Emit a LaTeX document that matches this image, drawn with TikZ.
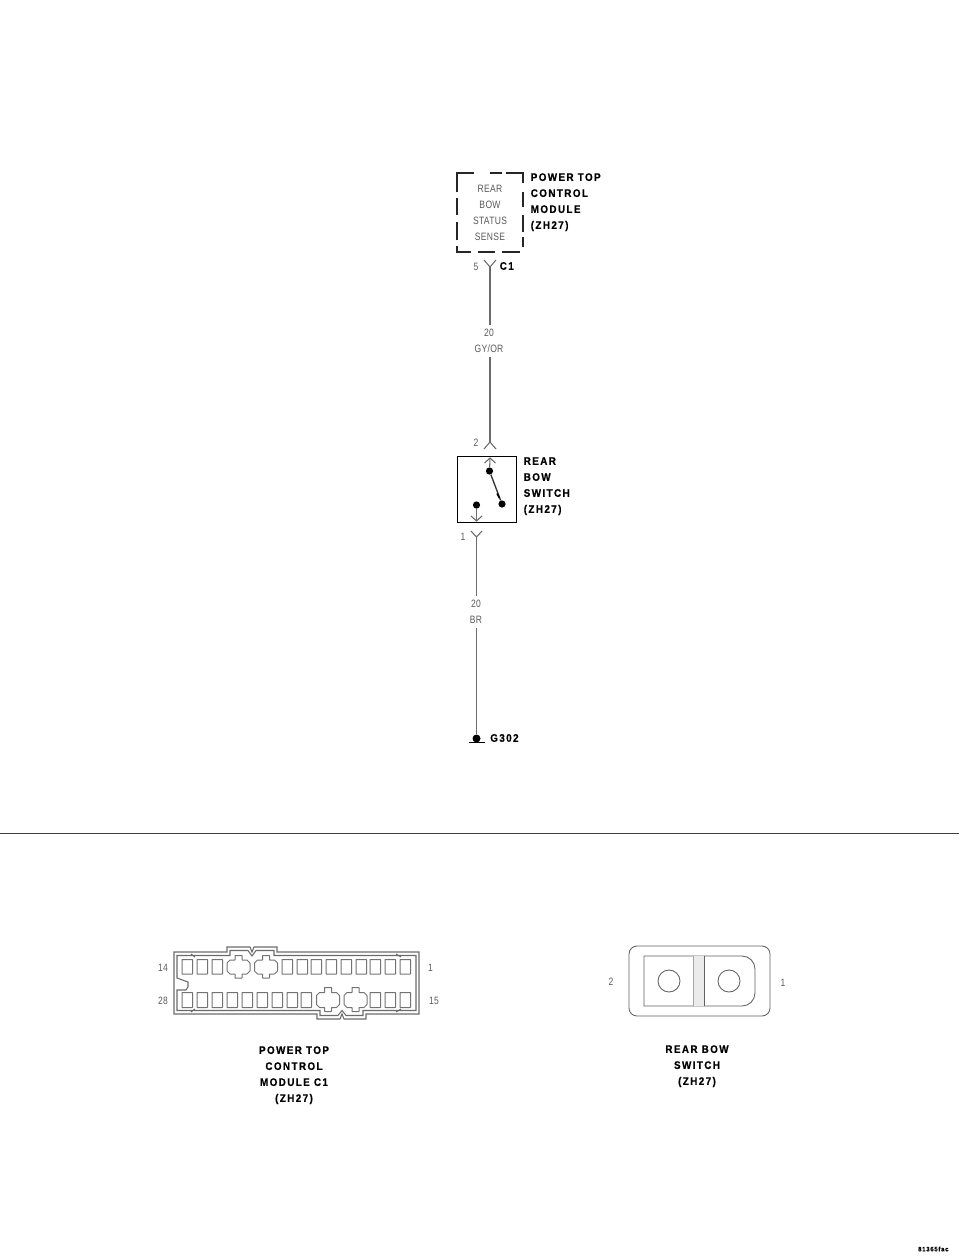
\documentclass[tikz,border=0pt]{standalone}
\usepackage{fontspec}
\setmainfont{Liberation Sans}
\newfontfamily\lblfont[LetterSpace=13,FakeBold=0.6,FakeStretch=0.9]{Liberation Sans}
\newfontfamily\thinfont[FakeStretch=0.8,LetterSpace=3]{Liberation Sans}
\definecolor{wiregray}{gray}{0.42}
\definecolor{textgray}{gray}{0.35}
\begin{document}
\begin{tikzpicture}[x=0.75pt,y=-0.75pt,
  lbl/.style={inner sep=0pt,align=left,anchor=north west,text=black,
    font=\lblfont\bfseries\fontsize{8.2}{12}\selectfont},
  lblc/.style={lbl,align=center,anchor=north},
  thin label/.style={inner sep=0pt,align=center,text=textgray,
    font=\thinfont\fontsize{8}{12}\selectfont},
  pinno/.style={thin label},
  wirelbl/.style={thin label,fill=white,inner ysep=3pt,inner xsep=1.5pt},
  wire/.style={draw=wiregray,line width=0.8pt},
  dashline/.style={draw=black!85,line width=1.1pt},
  dotmark/.style={circle,fill=black,inner sep=0pt,minimum size=5.4pt},
  cavity/.style={draw=black!55,line width=0.75pt,rounded corners=0.3pt},
  shell/.style={draw=black!58,line width=0.8pt},
  thinshell/.style={draw=black!62,line width=0.65pt},
  swbox/.style={draw=black,line width=1.2pt,inner sep=0pt,minimum width=44.5pt,minimum height=49.5pt},
]
\useasboundingbox (0,0) rectangle (960,1257);

% ---------- module (dashed box)
\node[inner sep=0pt,minimum width=50pt,minimum height=60pt] (module) at (490,212) {};
\draw[dashline] (474,173)--(457,173)--(457,192);
\draw[dashline] (490,173)--(502,173);
\draw[dashline] (506,173)--(523,173)--(523,183);
\draw[dashline] (457,198)--(457,215);
\draw[dashline] (457,222)--(457,240);
\draw[dashline] (457,246)--(457,252)--(471,252);
\draw[dashline] (478,252)--(495,252);
\draw[dashline] (502,252)--(520,252);
\draw[dashline] (523,192)--(523,207);
\draw[dashline] (523,215)--(523,232);
\draw[dashline] (523,237)--(523,247);
\node[thin label] (modtext) at (490,213) {REAR\\BOW\\STATUS\\SENSE};
\node[lbl] (modname) at (530.5,173) {POWER TOP\\CONTROL\\MODULE\\(ZH27)};

% ---------- upper wire
\coordinate (p5) at (490,267);
\coordinate (p5l) at (484,260);
\coordinate (p5r) at (496,260);
\coordinate (p2) at (490,442);
\coordinate (p2l) at (484,449);
\coordinate (p2r) at (496,449);
\draw[wire] (p5) -- (p2);
\draw[wire] (p5l) -- (p5) -- (p5r);
\draw[wire] (p2l) -- (p2) -- (p2r);
\node[wirelbl] (w1) at (489,341) {20\\GY/OR};
\node[pinno] (n5) at (476,266.5) {5};
\node[lbl,anchor=west] (c1) at (499.5,266) {C1};
\node[pinno] (n2) at (476,443) {2};

% ---------- switch
\node[swbox] (switch) at (487,489.5) {};
\node[lbl] (swname) at (523.5,457) {REAR\\BOW\\SWITCH\\(ZH27)};
\node[dotmark] (d1) at (489.5,471) {};
\node[dotmark] (d2) at (502,504) {};
\node[dotmark] (d3) at (476.5,505) {};
\coordinate (sa) at (490,458);
\draw[wire] (sa) -- (d1);
\draw[wire] (484.5,463) -- (sa) -- (495.5,463);
\draw[draw=black!80,line width=1pt] (d1) -- (d2);
\draw[draw=black,line width=1.2pt] (497,493.5) -- (499.5,498);
\coordinate (sb) at (476.5,521);
\draw[wire] (d3) -- (sb);
\draw[wire] (471,516) -- (sb) -- (482,516);

% ---------- lower wire
\coordinate (p1) at (476.5,537);
\coordinate (gnd) at (476.5,734);
\draw[wire] (471,531) -- (p1) -- (482,531);
\draw[wire] (p1) -- (gnd);
\node[wirelbl] (w2) at (476,612) {20\\BR};
\node[pinno] (n1) at (463,537) {1};

% ---------- ground
\fill[black] (476.5,738.5) circle[radius=4];
\draw[black,line width=1.1pt] (468.5,742.5) -- (484.5,742.5);
\node[lbl,anchor=west] (g302) at (490,738) {G302};

% ---------- separator
\coordinate (sepl) at (0,833);
\coordinate (sepr) at (959,833);
\draw[black!75,line width=0.7pt] (sepl) -- (sepr);

% ---------- connector C1 shell
\draw[shell] (174,952)--(227,952)--(227,947)--(250,947)--(252,952)--(254,947)--(277,947)--(277,952)--(419,952)--(419,1014)
 --(366,1014)--(366,1019)--(344,1019)--(342,1014)--(340,1019)--(317,1019)--(317,1014)--(174,1014)--cycle;
\draw[shell] (177,955.5)--(230,955.5)--(230,950.5)--(248,950.5)--(252,956)--(256,950.5)--(274,950.5)--(274,955.5)--(416,955.5)--(416,1010.5)
 --(363,1010.5)--(363,1015.5)--(346,1015.5)--(342,1010.5)--(338,1015.5)--(320,1015.5)--(320,1010.5)--(177,1010.5)
 --(177,990)--(186,990)--(188,987)--(188,982)--(177,978)--cycle;
\draw[shell] (191,954)--(195,957);
\draw[shell] (191,1012)--(195,1009);
\draw[shell] (396,954)--(401,957);
\draw[shell] (396,1012)--(401,1009);
% top cavities
\foreach \x in {182,197,212,282,297,311,326,341,356,370,385,400}
  \draw[cavity] (\x,959.5) rectangle (\x+10.5,974);
% bottom cavities
\foreach \x in {182,197,212,227,242,257,272,287,301,370,385,400}
  \draw[cavity] (\x,992.5) rectangle (\x+10.5,1007.5);
% keyed cavities
\foreach \x in {227,254.5}
  \draw[cavity] (\x,963)--(\x+3,960)--(\x+8,960)--(\x+8,955.5)--(\x+15,955.5)--(\x+15,960)--(\x+20,960)--(\x+23,963)
   --(\x+23,971)--(\x+20,974)--(\x+15,974)--(\x+15,978)--(\x+8,978)--(\x+8,974)--(\x+3,974)--(\x,971)--cycle;
\foreach \x in {316.5,344}
  \draw[cavity] (\x,995.5)--(\x+3,992.5)--(\x+8,992.5)--(\x+8,987.5)--(\x+15,987.5)--(\x+15,992.5)--(\x+20,992.5)--(\x+23,995.5)
   --(\x+23,1004.5)--(\x+20,1007.5)--(\x+15,1007.5)--(\x+15,1011.5)--(\x+8,1011.5)--(\x+8,1007.5)--(\x+3,1007.5)--(\x,1004.5)--cycle;
\node[pinno] (c14) at (163,967.5) {14};
\node[pinno] (c28) at (163,1000.5) {28};
\node[pinno] (c1n) at (430.5,967.5) {1};
\node[pinno] (c15) at (434,1000.5) {15};
\node[lblc] (c1name) at (294,1046) {POWER TOP\\CONTROL\\MODULE C1\\(ZH27)};

% ---------- switch connector
\draw[thinshell,rounded corners=6pt] (629,946) rectangle (770,1016);
\draw[thinshell] (644,956) -- (742,956) arc[start angle=-90,end angle=0,radius=13] -- (755,993) arc[start angle=0,end angle=90,radius=13] -- (644,1006) -- cycle;
\fill[black!8] (693,956) rectangle (704,1006);
\draw[draw=black!35,line width=0.7pt] (693,956) -- (693,1006);
\draw[thinshell] (704,956) -- (704,1006);
\draw[thinshell] (669,981) circle[radius=11];
\draw[thinshell] (729,981) circle[radius=11];
\node[pinno] (s2) at (611,982) {2};
\node[pinno] (s1) at (783,982.5) {1};
\node[lblc] (sname) at (697,1045) {REAR BOW\\SWITCH\\(ZH27)};

% ---------- footer
\node[lbl,anchor=west,font=\lblfont\bfseries\fontsize{4.8}{6}\selectfont] (foot) at (918,1249) {81365fac};
\end{tikzpicture}
\end{document}
